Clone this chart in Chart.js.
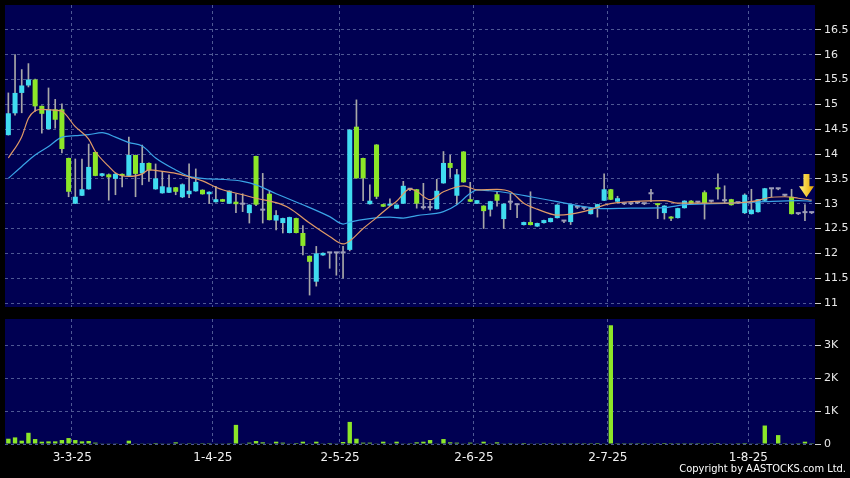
<!DOCTYPE html>
<html>
<head>
<meta charset="utf-8">
<script src="https://cdn.jsdelivr.net/npm/chart.js@4.4.1/dist/chart.umd.min.js"></script>
<style>
  html, body { margin: 0; padding: 0; background: #000; }
  #wrap { position: relative; width: 850px; height: 478px; overflow: hidden; background: #000; }
  #price-chart { position: absolute; left: 0; top: 0; }
  #vol-chart { position: absolute; left: 0; top: 312px; }
  #copyright {
    position: absolute; right: 4px; top: 462px;
    font: 11px 'DejaVu Sans Condensed', 'DejaVu Sans', sans-serif;
    color: #fff; white-space: nowrap;
  }
</style>
</head>
<body>
<div id="wrap">
  <canvas id="price-chart" width="850" height="312"></canvas>
  <canvas id="vol-chart" width="850" height="166"></canvas>
  <div id="copyright">Copyright by AASTOCKS.com Ltd.</div>
</div>
<script>
// trading days (weekdays minus days with no session)
const firstDay = '2025-02-17';
const lastDay = '2025-08-14';
const closedDays = ['2025-04-04', '2025-04-18', '2025-04-21', '2025-05-01', '2025-05-05',
  '2025-06-20', '2025-07-01', '2025-07-18'];

// daily candles
const opens = [14.38, 14.82, 15.23, 15.38, 15.50, 14.97, 14.50, 14.90, 14.90, 13.92,
  13.00, 13.16, 13.29, 14.04, 13.56, 13.59, 13.50, 13.60, 13.56, 13.98,
  13.61, 13.82, 13.29, 13.21, 13.22, 13.33, 13.13, 13.19, 13.25, 13.28,
  13.19, 13.03, 13.09, 13.00, 13.04, 12.98, 12.81, 13.96, 12.86, 13.20,
  12.66, 12.61, 12.41, 12.71, 12.41, 11.95, 11.43, 11.96, 12.00, 12.00,
  12.00, 12.07, 14.55, 13.92, 12.99, 14.19, 12.99, 12.96, 12.90, 13.00,
  13.28, 13.29, 12.91, 12.91, 12.89, 13.41, 13.82, 13.16, 14.05, 13.09,
  13.00, 12.96, 12.88, 13.19, 12.69, 13.02, 12.97, 12.57, 12.63, 12.54,
  12.61, 12.63, 12.71, 12.64, 12.63, 12.92, 12.90, 12.79, 12.91, 13.06,
  13.29, 13.04, 12.99, 12.99, 13.01, 12.99, 13.19, 13.00, 12.81, 12.74,
  12.71, 12.91, 13.06, 13.02, 13.23, 13.04, 13.33, 13.05, 13.09, 13.01,
  12.81, 12.79, 12.83, 13.06, 13.29, 13.29, 13.16, 13.14, 12.79, 12.81,
  12.81];
const highs = [15.23, 16.00, 15.70, 15.82, 15.51, 14.97, 15.33, 15.10, 15.01, 13.92,
  13.90, 13.90, 14.20, 14.04, 13.61, 13.60, 13.62, 13.60, 14.34, 13.98,
  14.18, 13.82, 13.80, 13.65, 13.58, 13.33, 13.40, 13.80, 13.70, 13.28,
  13.24, 13.35, 13.09, 13.26, 13.20, 13.20, 12.98, 13.96, 13.61, 13.26,
  12.86, 12.71, 12.73, 12.71, 12.56, 11.95, 12.14, 12.01, 12.00, 12.00,
  12.14, 14.49, 15.09, 13.92, 13.38, 14.19, 12.99, 13.10, 12.98, 13.45,
  13.30, 13.29, 13.41, 13.05, 13.49, 14.05, 13.98, 13.69, 14.05, 13.43,
  13.07, 12.96, 13.05, 13.25, 13.00, 13.20, 12.98, 12.63, 13.24, 12.61,
  12.67, 12.71, 12.98, 12.66, 12.99, 12.95, 12.92, 12.91, 12.99, 13.60,
  13.29, 13.15, 13.00, 13.00, 13.02, 13.00, 13.29, 13.00, 12.96, 12.74,
  12.91, 13.06, 13.06, 13.03, 13.26, 13.05, 13.60, 13.36, 13.09, 13.02,
  13.20, 13.29, 13.09, 13.31, 13.29, 13.30, 13.17, 13.29, 12.80, 12.98,
  12.82];
const lows = [14.38, 14.78, 14.83, 15.35, 14.86, 14.42, 14.50, 14.52, 14.02, 13.14,
  13.00, 13.16, 13.29, 13.56, 13.55, 13.07, 13.18, 13.34, 13.56, 13.14,
  13.38, 13.45, 13.29, 13.21, 13.22, 13.18, 13.12, 13.12, 13.25, 13.19,
  13.00, 13.03, 13.04, 13.00, 12.82, 12.84, 12.61, 12.96, 12.61, 12.67,
  12.47, 12.41, 12.41, 12.41, 11.97, 11.16, 11.34, 11.96, 11.70, 11.56,
  11.50, 12.05, 13.51, 13.06, 12.99, 13.10, 12.94, 12.96, 12.90, 13.00,
  13.26, 12.91, 12.89, 12.87, 12.89, 13.41, 13.53, 12.98, 13.43, 13.04,
  13.00, 12.50, 12.75, 12.95, 12.50, 12.88, 12.72, 12.57, 12.57, 12.54,
  12.61, 12.63, 12.71, 12.62, 12.58, 12.90, 12.88, 12.79, 12.73, 13.06,
  13.08, 13.04, 12.98, 12.98, 13.00, 12.98, 13.04, 12.70, 12.69, 12.66,
  12.71, 12.91, 13.00, 13.01, 12.69, 13.03, 13.09, 13.00, 12.97, 13.00,
  12.80, 12.79, 12.83, 13.06, 13.14, 13.28, 13.15, 12.79, 12.78, 12.66,
  12.80];
const closes = [14.82, 15.23, 15.38, 15.50, 14.96, 14.81, 14.90, 14.69, 14.10, 13.24,
  13.14, 13.29, 13.74, 13.56, 13.61, 13.53, 13.60, 13.56, 13.98, 13.60,
  13.82, 13.67, 13.51, 13.35, 13.33, 13.24, 13.39, 13.26, 13.44, 13.19,
  13.24, 13.09, 13.04, 13.26, 12.99, 12.98, 12.98, 12.98, 12.86, 12.67,
  12.77, 12.71, 12.73, 12.41, 12.15, 11.83, 12.00, 12.01, 12.00, 12.00,
  12.00, 14.49, 13.51, 13.51, 13.06, 13.14, 12.94, 13.00, 12.98, 13.36,
  13.28, 13.00, 12.91, 12.91, 13.26, 13.82, 13.72, 13.59, 13.43, 13.04,
  13.07, 12.85, 13.05, 13.06, 13.00, 13.02, 12.97, 12.63, 12.57, 12.61,
  12.67, 12.71, 12.98, 12.64, 12.99, 12.92, 12.90, 12.91, 12.99, 13.29,
  13.08, 13.11, 12.99, 12.99, 13.01, 12.99, 13.19, 12.97, 12.96, 12.70,
  12.91, 13.06, 13.00, 13.02, 13.01, 13.04, 13.29, 13.05, 12.97, 13.01,
  13.18, 12.88, 13.09, 13.31, 13.29, 13.29, 13.16, 12.79, 12.79, 12.81,
  12.81];
const volumes = [160, 200, 100, 340, 150, 70, 80, 80, 120, 180,
  120, 80, 90, 40, 20, 10, 10, 15, 100, 20,
  10, 10, 30, 10, 10, 50, 10, 5, 10, 5,
  5, 10, 10, 5, 580, 10, 40, 90, 50, 10,
  70, 40, 10, 30, 70, 10, 70, 10, 30, 10,
  60, 670, 160, 40, 40, 10, 70, 10, 70, 10,
  5, 50, 70, 120, 10, 150, 50, 40, 10, 40,
  10, 70, 10, 50, 10, 5, 20, 30, 20, 10,
  5, 5, 10, 5, 5, 5, 5, 5, 30, 10,
  3600, 5, 5, 5, 5, 5, 10, 5, 30, 5,
  5, 5, 5, 5, 10, 5, 30, 10, 20, 5,
  30, 10, 10, 560, 10, 270, 5, 10, 5, 70,
  5];

// moving averages as [day index, value]
const maShortPoints = [[0, 13.92], [2, 14.35], [3, 14.72], [4, 14.87], [5, 14.9], [7, 14.88], [8, 14.86],
  [10, 14.55], [12, 14.3], [13, 14.05], [15, 13.75], [16, 13.62], [18, 13.55], [19, 13.56], [20, 13.6],
  [21, 13.68], [23, 13.65], [25, 13.61], [27, 13.54], [29, 13.46], [31, 13.33], [32, 13.28], [35, 13.18],
  [37, 13.11], [40, 13.02], [42, 12.91], [45, 12.61], [48, 12.34], [50, 12.19], [51, 12.25], [53, 12.5],
  [55, 12.72], [57, 12.95], [58, 13.05], [60, 13.3], [61, 13.25], [63, 13.08], [65, 13.24], [68, 13.36],
  [70, 13.28], [73, 13.29], [75, 13.24], [77, 13.01], [79, 12.89], [82, 12.77], [84, 12.79], [87, 12.88],
  [89, 12.97], [91, 13.02], [93, 13.04], [98, 13.06], [100, 13.01], [103, 13.01], [108, 13.01],
  [111, 13.04], [114, 13.13], [116, 13.14], [118, 13.11], [120, 13.07]];
const maLongPoints = [[0, 13.51], [2, 13.75], [4, 13.98], [6, 14.15], [8, 14.34], [10, 14.37], [12, 14.39],
  [14, 14.43], [16, 14.34], [18, 14.23], [20, 14.16], [22, 13.92], [25, 13.68], [27, 13.55], [30, 13.5],
  [32, 13.49], [35, 13.45], [37, 13.38], [40, 13.2], [44, 12.98], [48, 12.74], [50, 12.59], [51, 12.63],
  [54, 12.7], [57, 12.73], [59, 12.71], [61, 12.76], [65, 12.84], [67, 12.98], [69, 13.21], [70, 13.28],
  [72, 13.26], [75, 13.21], [78, 13.14], [82, 13.04], [86, 12.94], [89, 12.9], [93, 12.91], [98, 12.92],
  [101, 12.98], [108, 13.01], [113, 13.04], [118, 13.06], [120, 13.05]];

const priceTicks = [11, 11.5, 12, 12.5, 13, 13.5, 14, 14.5, 15, 15.5, 16, 16.5];
const volumeTicks = [0, 1000, 2000, 3000];

// marker arrow over the latest bars
const arrowIndex = 119;
const arrowTop = 13.6;
const arrowTip = 13.13;

const navy = '#000052';
const gridColor = '#4e5894';
const upColor = '#40dcf0';
const downColor = '#8ce628';
const flatColor = '#9c9cb8';
const wickColor = '#a8a8a8';
const volColor = '#8ce628';

Chart.defaults.font.family = 'DejaVu Sans';
Chart.defaults.color = '#e8e8e8';

// build the category list
const tradingDays = [];
for (let d = new Date(firstDay + 'T00:00:00Z'); d <= new Date(lastDay + 'T00:00:00Z'); d.setUTCDate(d.getUTCDate() + 1)) {
  const wd = d.getUTCDay();
  const key = d.toISOString().slice(0, 10);
  if (wd === 0 || wd === 6 || closedDays.includes(key)) continue;
  tradingDays.push(key);
}

// first trading day of each month gets a label + grid line
const monthLabels = {};
tradingDays.forEach((day, i) => {
  if (i > 0 && day.slice(5, 7) !== tradingDays[i - 1].slice(5, 7)) {
    const [y, m, dd] = day.split('-');
    monthLabels[i] = `${+dd}-${+m}-${y.slice(2)}`;
  }
});

function fromPoints(points) {
  const arr = tradingDays.map(() => null);
  points.forEach(([i, v]) => { arr[i] = v; });
  return arr;
}

const candleColors = opens.map((o, i) => closes[i] > o ? upColor : closes[i] < o ? downColor : flatColor);

const plotBackground = {
  id: 'plotBackground',
  beforeDraw(chart) {
    const { ctx, chartArea: a } = chart;
    ctx.save();
    ctx.fillStyle = '#000';
    ctx.fillRect(0, 0, chart.width, chart.height);
    ctx.fillStyle = navy;
    ctx.fillRect(a.left, a.top, a.right - a.left, a.bottom - a.top);
    ctx.restore();
  }
};

const lastMarker = {
  id: 'lastMarker',
  afterDatasetsDraw(chart) {
    const { ctx } = chart;
    const x = chart.scales.x.getPixelForValue(arrowIndex) + 1.5;
    const y0 = chart.scales.y.getPixelForValue(arrowTop);
    const y1 = chart.scales.y.getPixelForValue(arrowTip);
    const headH = 11;
    const g = ctx.createLinearGradient(x - 7, 0, x + 7, 0);
    g.addColorStop(0, '#fff27a');
    g.addColorStop(1, '#e8a800');
    ctx.save();
    ctx.fillStyle = g;
    ctx.beginPath();
    ctx.moveTo(x - 3, y0);
    ctx.lineTo(x + 3, y0);
    ctx.lineTo(x + 3, y1 - headH);
    ctx.lineTo(x + 7.5, y1 - headH);
    ctx.lineTo(x, y1);
    ctx.lineTo(x - 7.5, y1 - headH);
    ctx.lineTo(x - 3, y1 - headH);
    ctx.closePath();
    ctx.fill();
    ctx.restore();
  }
};

const monthGrid = ctx => (ctx.tick && monthLabels[ctx.index] !== undefined) ? gridColor : 'rgba(0,0,0,0)';

// y axes sit in a fixed 35px strip and must not push the plot inward
const fixRightAxis = s => { s.width = 35; s.paddingTop = 0; s.paddingBottom = 0; };

new Chart(document.getElementById('price-chart'), {
  type: 'bar',
  data: {
    labels: tradingDays,
    datasets: [
      {
        type: 'line', label: 'MA10', data: fromPoints(maShortPoints),
        borderColor: '#e09a66', borderWidth: 1.2, pointRadius: 0,
        spanGaps: true, cubicInterpolationMode: 'monotone', order: 0
      },
      {
        type: 'line', label: 'MA20', data: fromPoints(maLongPoints),
        borderColor: '#3aa4e6', borderWidth: 1.2, pointRadius: 0,
        spanGaps: true, cubicInterpolationMode: 'monotone', order: 0
      },
      {
        label: 'body', data: opens.map((o, i) => [o, closes[i]]),
        backgroundColor: candleColors, barPercentage: 0.75, categoryPercentage: 1,
        minBarLength: 2, grouped: false, order: 1
      },
      {
        label: 'wick', data: lows.map((l, i) => [l, highs[i]]),
        backgroundColor: wickColor, barThickness: 1, grouped: false, order: 2
      }
    ]
  },
  options: {
    responsive: false,
    animation: false,
    layout: { padding: { left: 5, top: 5, right: 0, bottom: 5 } },
    plugins: { legend: { display: false }, tooltip: { enabled: false } },
    scales: {
      x: {
        offset: true,
        ticks: { display: false, autoSkip: false },
        grid: { offset: true, color: monthGrid, drawTicks: false },
        border: { display: false, dash: [3, 3] },
        afterFit: s => { s.height = 0; s.paddingLeft = 0; s.paddingRight = 0; }
      },
      y: {
        position: 'right',
        min: 10.92,
        max: 17.0,
        afterBuildTicks: s => { s.ticks = priceTicks.map(v => ({ value: v })); },
        ticks: { font: { size: 11 }, color: '#e8e8e8', padding: 3, callback: v => String(v) },
        grid: { color: gridColor, tickColor: '#d0d0d0', tickLength: 6 },
        border: { display: false, dash: [3, 3] },
        afterFit: fixRightAxis
      }
    }
  },
  plugins: [plotBackground, lastMarker]
});

new Chart(document.getElementById('vol-chart'), {
  type: 'bar',
  data: {
    labels: tradingDays,
    datasets: [{
      label: 'Volume', data: volumes, backgroundColor: volColor,
      barPercentage: 0.65, categoryPercentage: 1
    }]
  },
  options: {
    responsive: false,
    animation: false,
    layout: { padding: { left: 5, top: 7, right: 0, bottom: 0 } },
    plugins: { legend: { display: false }, tooltip: { enabled: false } },
    scales: {
      x: {
        offset: true,
        ticks: {
          autoSkip: false, maxRotation: 0, minRotation: 0, padding: 7,
          labelOffset: -3, font: { size: 12 }, color: '#f0f0f0',
          callback: (v, i) => monthLabels[i] || ''
        },
        grid: { offset: true, color: monthGrid, drawTicks: false },
        border: { display: false, dash: [3, 3] },
        afterFit: s => { s.height = 34; s.paddingLeft = 0; s.paddingRight = 0; }
      },
      y: {
        position: 'right',
        min: 0,
        max: 3790,
        afterBuildTicks: s => { s.ticks = volumeTicks.map(v => ({ value: v })); },
        ticks: { font: { size: 11 }, color: '#e8e8e8', padding: 3, callback: v => v === 0 ? '0' : (v / 1000) + 'K' },
        grid: { color: gridColor, tickColor: '#d0d0d0', tickLength: 6 },
        border: { display: false, dash: [3, 3] },
        afterFit: fixRightAxis
      }
    }
  },
  plugins: [plotBackground]
});
</script>
</body>
</html>
